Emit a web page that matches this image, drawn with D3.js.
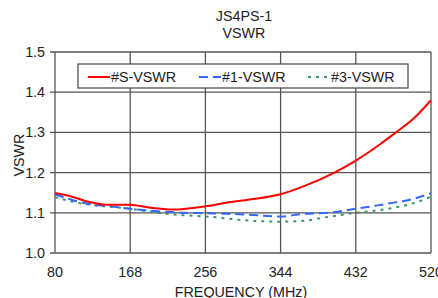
<!DOCTYPE html>
<html>
<head>
<meta charset="utf-8">
<script src="https://cdn.jsdelivr.net/npm/d3@7"></script>
<style>
body { margin: 0; background: #fff; }
text { font-family: "Liberation Sans", Arial, sans-serif; }
</style>
</head>
<body>
<div id="chart"></div>
<script>
var freqTicks = [80, 168, 256, 344, 432, 520];
var vswrTicks = [1.0, 1.1, 1.2, 1.3, 1.4, 1.5];

var freqS = [80, 100, 120, 140, 168, 190, 218, 256, 280, 308, 344, 370, 407, 432, 460, 479, 500, 520];
var vswrS = [1.149, 1.14, 1.127, 1.12, 1.12, 1.113, 1.108, 1.116, 1.125, 1.133, 1.146, 1.165, 1.2, 1.23, 1.27, 1.30, 1.335, 1.38];

var freq1 = [80, 100, 120, 145, 168, 200, 230, 256, 300, 344, 370, 400, 432, 470, 500, 520];
var vswr1 = [1.146, 1.132, 1.122, 1.116, 1.11, 1.104, 1.1, 1.099, 1.096, 1.091, 1.097, 1.1, 1.11, 1.123, 1.135, 1.149];

var freq3 = [80, 100, 120, 145, 168, 200, 230, 256, 311, 344, 370, 400, 432, 470, 500, 520];
var vswr3 = [1.139, 1.128, 1.12, 1.115, 1.11, 1.1, 1.094, 1.091, 1.08, 1.078, 1.08, 1.09, 1.1, 1.11, 1.124, 1.14];

var seriesNames = ["#S-VSWR", "#1-VSWR", "#3-VSWR"];
var seriesColors = ["#ff0000", "#3366ff", "#339966"];
var seriesDash = [null, "9,5", "3,5"];

var width = 438, height = 298;
var margin = {left: 55, right: 7, top: 52, bottom: 45};
var fs = 14.3;

var svg = d3.select("#chart").append("svg")
    .attr("width", width)
    .attr("height", height);

var x = d3.scaleLinear().domain([80, 520]).range([margin.left, width - margin.right]);
var y = d3.scaleLinear().domain([1.0, 1.5]).range([height - margin.bottom, margin.top]);

// grid
svg.selectAll(".vgrid").data(freqTicks).enter().append("line")
    .attr("x1", function(d){ return x(d); })
    .attr("x2", function(d){ return x(d); })
    .attr("y1", y(1.0)).attr("y2", y(1.5))
    .attr("stroke", "#555").attr("stroke-width", 1.3);
svg.selectAll(".hgrid").data(vswrTicks).enter().append("line")
    .attr("x1", x(80) - 5).attr("x2", x(520))
    .attr("y1", function(d){ return y(d); })
    .attr("y2", function(d){ return y(d); })
    .attr("stroke", "#555").attr("stroke-width", 1.3);

// axes labels
svg.selectAll(".ytick").data(vswrTicks).enter().append("text")
    .attr("x", x(80) - 10)
    .attr("y", function(d){ return y(d) + 5; })
    .attr("text-anchor", "end")
    .attr("font-size", fs)
    .attr("fill", "#222")
    .text(function(d){ return d.toFixed(1); });

svg.selectAll(".xtick").data(freqTicks).enter().append("text")
    .attr("x", function(d){ return x(d); })
    .attr("y", y(1.0) + 24)
    .attr("text-anchor", "middle")
    .attr("font-size", fs)
    .attr("fill", "#222")
    .text(function(d){ return d; });

svg.append("text")
    .attr("x", 241).attr("y", 297)
    .attr("text-anchor", "middle")
    .attr("font-size", fs).attr("fill", "#222")
    .text("FREQUENCY (MHz)");

svg.append("text")
    .attr("transform", "translate(24,155) rotate(-90)")
    .attr("text-anchor", "middle")
    .attr("font-size", fs).attr("fill", "#222")
    .text("VSWR");

svg.append("text")
    .attr("x", 244).attr("y", 21)
    .attr("text-anchor", "middle")
    .attr("font-size", fs).attr("fill", "#222")
    .text("JS4PS-1");
svg.append("text")
    .attr("x", 244).attr("y", 38)
    .attr("text-anchor", "middle")
    .attr("font-size", fs).attr("fill", "#222")
    .text("VSWR");

// lines
var line = d3.line()
    .x(function(d){ return x(d[0]); })
    .y(function(d){ return y(d[1]); })
    .curve(d3.curveMonotoneX);

var allSeries = [d3.zip(freqS, vswrS), d3.zip(freq1, vswr1), d3.zip(freq3, vswr3)];

// draw #3 first, then #1, then #S on top
[2, 1, 0].forEach(function(i){
    svg.append("path")
        .datum(allSeries[i])
        .attr("d", line)
        .attr("fill", "none")
        .attr("stroke", seriesColors[i])
        .attr("stroke-width", 2)
        .attr("stroke-dasharray", seriesDash[i]);
});

// legend
var lg = svg.append("g");
lg.append("rect")
    .attr("x", 78).attr("y", 64)
    .attr("width", 330).attr("height", 24)
    .attr("fill", "#fff")
    .attr("stroke", "#444").attr("stroke-width", 1.2);

var legX = [88, 199, 308];
seriesNames.forEach(function(name, i){
    lg.append("line")
        .attr("x1", legX[i]).attr("x2", legX[i] + 22)
        .attr("y1", 77).attr("y2", 77)
        .attr("stroke", seriesColors[i])
        .attr("stroke-width", 2)
        .attr("stroke-dasharray", seriesDash[i]);
    lg.append("text")
        .attr("x", legX[i] + 23).attr("y", 82)
        .attr("font-size", fs).attr("fill", "#222")
        .text(name);
});
</script>
</body>
</html>
